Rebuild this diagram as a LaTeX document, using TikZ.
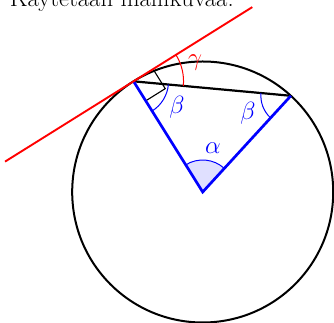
\documentclass[tikz,border=0pt]{standalone}
\usepackage{amsmath,amssymb}
\usepackage{tikz}

\begin{document}
\begin{tikzpicture}[x=1pt,y=1pt,
  every node/.style={font=\fontsize{28}{32}\selectfont},line width=1.1pt]
  \useasboundingbox (0,0) rectangle (334,323);
  \clip (0,0) rectangle (334,323);
  \node[anchor=base west,font=\fontsize{24.7}{29}\selectfont] (title) at (6,316) {Käytetään mallikuvaa:};
  \coordinate (C) at (202.7,131);
  \coordinate (A) at ([shift={(122:130.5)}]C);
  \coordinate (B) at ([shift={(47.5:130.5)}]C);
  \coordinate (T1) at ([shift={(212:151.5)}]A);
  \coordinate (T2) at ([shift={(32:140)}]A);
  \filldraw[fill=blue!12,draw=blue,line width=1pt] (C) -- ([shift={(47.5:32)}]C) arc (47.5:122:32) -- cycle;
  \node[blue] (alpha) at (213,175) {$\alpha$};
  \draw[line width=2pt] (C) circle (130.5);
  \draw[line width=2.2pt] (A) -- (B);
  \draw[line width=1.1pt] ([shift={(32:23)}]A) -- ++(-58:23) -- ++(212:23);
  \draw[blue,line width=1pt] ([shift={(-58:35)}]A) arc (-58:-5.25:35);
  \node[blue] (betaA) at (177,216) {$\beta$};
  \draw[blue,line width=1pt] ([shift={(174.75:30)}]B) arc (174.75:227.5:30);
  \node[blue] (betaB) at (248,210) {$\beta$};
  \draw[red,line width=1pt] ([shift={(-5.25:50)}]A) arc (-5.25:32:50);
  \node[red] (gamma) at (195,260) {$\gamma$};
  \draw[blue,line width=2.7pt] (A) -- (C) -- (B);
  \draw[red,line width=1.9pt] (T1) -- (T2);
\end{tikzpicture}
\end{document}
